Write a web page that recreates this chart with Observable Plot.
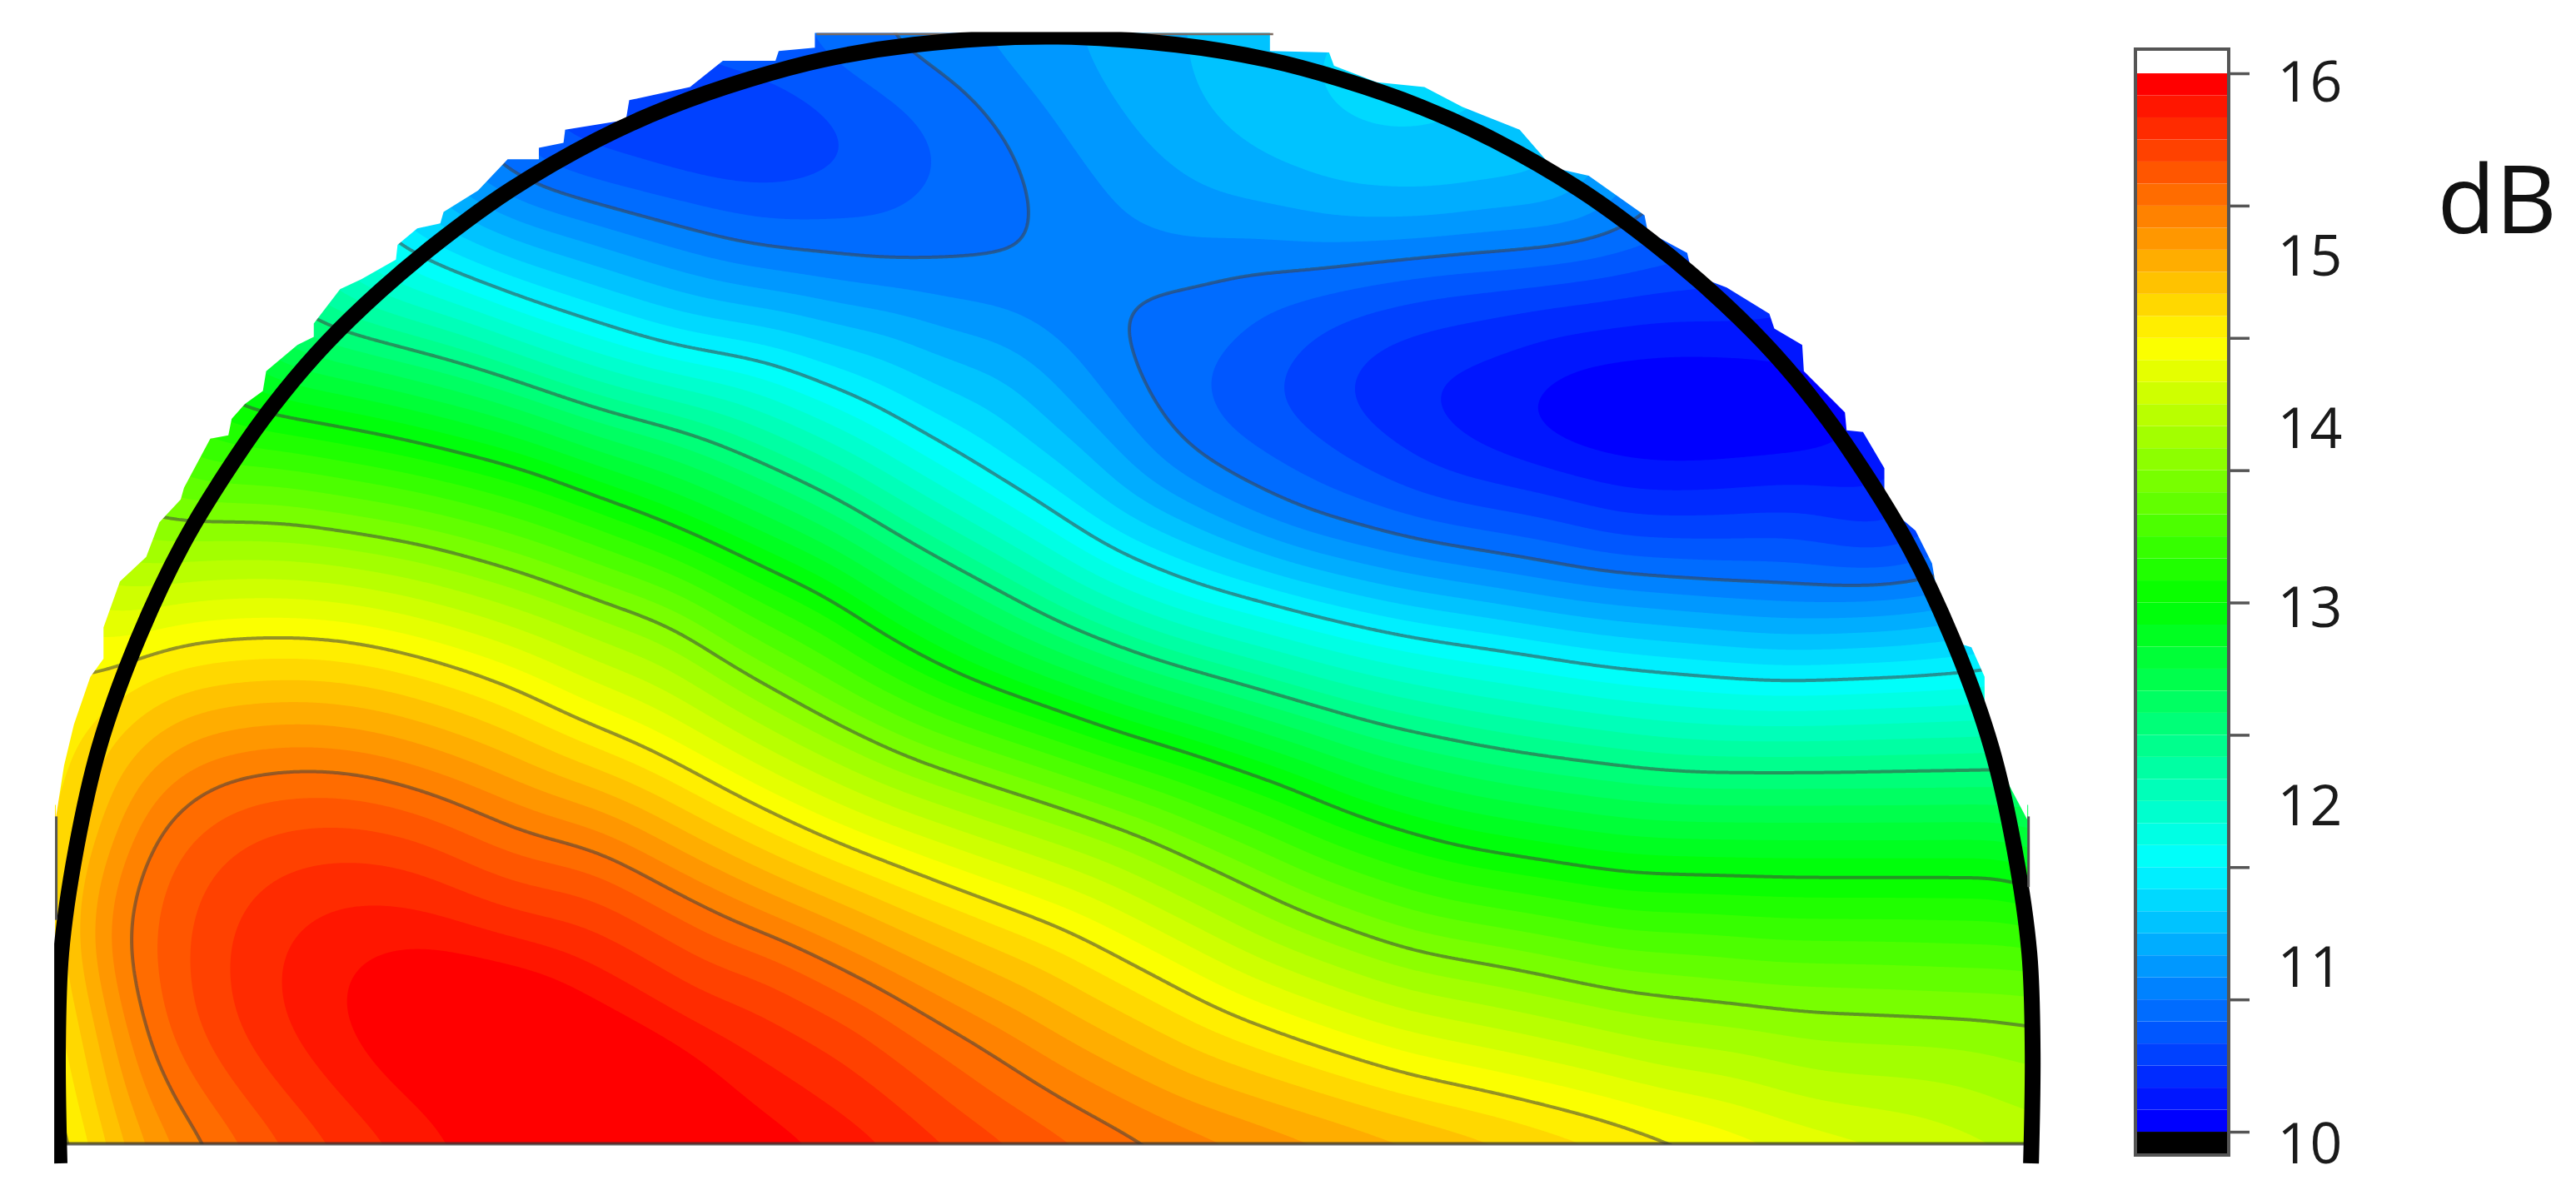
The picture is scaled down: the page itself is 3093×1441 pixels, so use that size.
<!DOCTYPE html>
<html><head><meta charset="utf-8">
<script src="https://cdn.jsdelivr.net/npm/d3@7"></script>
<script src="https://cdn.jsdelivr.net/npm/@observablehq/plot@0.6"></script>
<style>html,body{margin:0;background:#fff;overflow:hidden}#c{position:relative;width:3093px;height:1441px}#c svg{position:absolute;top:0;background:#fff0}</style>
</head><body><div id="c"></div>
<script>
// dB levels, as [x, y] in picture units
const t10125=[[915,247],[954,224],[1019,215],[1084,218],[1100,220],[954,274],[1019,285],[1110,277],[1140,274]];
const t1025=[[852,244],[890,218],[971,198],[1051,195],[1085,198],[906,280],[987,299],[1129,303],[1155,302]];
const t10375=[[806,242],[841,202],[922,184],[1019,173],[1060,176],[874,290],[987,316],[1145,329],[1170,327]];
const t105=[[765,240],[809,192],[890,173],[1003,160],[841,293],[987,329],[1148,338],[1180,337],[480,54],[527,86],[518,103],[471,116],[370,97]];
const t10625=[[724,240],[777,181],[874,163],[987,153],[809,300],[987,340],[1148,348],[1185,347],[518,42],[578,101],[535,140],[442,129],[355,110]];
const t1075=[[295,100],[323,115],[388,133],[453,152],[507,159],[573,165],[614,165],[636,155],[642,135],[630,105],[613,76],[590,51],[552,33],[530,24],
 [670,203],[672,180],[692,168],[733,166],[760,165],[825,158],[890,154],[987,145],[1003,135],[688,235],[722,280],[756,300],[793,316],[857,331],[954,347],[1084,358],[1161,355],[1190,352]];
const t10875=[[597,28],[631,64],[658,101],[690,135],[720,153],[800,150],[900,145],[975,136]];
const t110=[[655,29],[675,59],[704,95],[748,123],[811,138],[880,138],[954,129]];
const t11125=[[719,35],[733,71],[777,101],[811,115],[880,118],[955,112]];
const t1125=[[786,40],[786,61],[809,78],[851,90],[896,94],[925,90]];
const t115=[[240,150],[262,162],[323,186],[388,207],[406,213],[470,222],[507,238],[535,251],[583,280],[632,309],[680,339],[729,358],[760,365],[794,374],[857,388],[912,395],[987,407],[1084,415],[1187,411],[1208,408]];
const t1225=[[191,198],[217,204],[291,223],[356,246],[406,258],[454,277],[503,300],[551,329],[600,355],[648,381],[697,400],[760,418],[825,437],[922,457],[1019,469],[1116,469],[1207,468],[1234,468]];
const t13=[[147,249],[171,252],[242,265],[323,285],[388,310],[453,339],[503,361],[545,390],[583,410],[632,427],[680,444],[729,458],[777,474],[825,495],[890,515],[987,530],[1084,532],[1219,532],[1240,532]];
const t1375=[[97,318],[126,317],[178,318],[259,331],[323,349],[372,367],[406,377],[454,410],[503,437],[551,460],[600,476],[648,491],[697,508],[745,531],[794,555],[858,578],[912,587],[987,603],[1084,613],[1229,619],[1250,620]];
const t145=[[61,407],[84,398],[113,390],[162,386],[210,388],[259,399],[307,415],[356,440],[406,461],[454,487],[503,510],[551,528],[600,546],[648,563],[697,589],[745,615],[802,636],[858,654],[922,667],[987,682]];
const t1525=[[103,668],[87,639],[76,606],[73,571],[80,528],[93,503],[116,481],[145,470],[186,466],[228,471],[269,484],[324,507],[406,539],[454,562],[503,583],[551,609],[600,636],[648,667]];
const t15375=[[91,571],[103,521],[145,488],[207,483],[253,493],[358,526],[463,575],[528,610]];
const t155=[[112,571],[128,528],[166,503],[207,499],[253,509],[358,542],[463,589],[528,624],[116,623]];
const t15625=[[134,575],[155,534],[197,521],[253,526],[376,570],[463,614],[528,654],[145,633]];
const t1575=[[163,592],[176,563],[207,545],[253,549],[341,577],[428,624],[528,687],[172,629],[207,670]];
const t15875=[[207,604],[219,583],[253,577],[306,586],[358,610],[411,640],[455,671],[217,633],[248,668]];
const levelNames=[10.125,10.25,10.375,10.5,10.625,10.75,10.875,11,11.125,11.25,11.5,12.25,13,13.75,14.5,15.25,15.375,15.5,15.625,15.75,15.875];
const levelTraces=[t10125,t1025,t10375,t105,t10625,t1075,t10875,t110,t11125,t1125,t115,t1225,t13,t1375,t145,t1525,t15375,t155,t15625,t1575,t15875];
// extremes, saddle and rim readings, as [x, y, dB]
const spots=[[960,250,9.96],[1030,250,9.93],[1100,250,9.96],[430,85,10.32],[480,85,10.36],[345,80,10.42],[655,172,10.82],[840,62,11.32],
 [260,612,16.12],[320,628,16.18],[400,665,16.18],[34,600,14.6],[48,571,15.0],[60,571,15.12],[36,500,14.55],[50,440,14.55],
 [1245,660,13.9],[1238,575,13.4],[1225,500,12.65],[1205,440,11.9],[1190,380,11.2],[470,37,10.55],[1010,140,10.68],[1145,300,10.26]];
// readings along the straight lower edge, as [x, dB], and the same levels carried on below it
const baseX=[22,34,62,83,124,145,170,199,234,275,330,400,488,535,574,612,651,706,760,815,869,923,978,1032,1130,1252];
const baseDb=[14.3,14.35,14.75,15,15.25,15.375,15.5,15.625,15.75,15.875,16.15,16.15,15.875,15.75,15.625,15.5,15.375,15.25,15.125,15,14.875,14.75,14.625,14.5,14.27,14.05];
const belowX=[30,42,72,95,140,160,187,216,252,295,350,430,520,570,610,650,690,740,800,860,915,970,1025,1085,1190,1300];
// outline of the measured area, picture units
const rimEdge=[[0,490],[34,490],[34,498],[39,466],[45,441],[55,412],[63,401],[63,382],[73,354],[89,339],[97,318],[110,304],[112,297],[128,267],[139,265],[141,255],[149,246],[160,238],[162,226],[181,210],[191,205],[191,197],[207,176],[220,170],[241,158],[242,149],[254,139],[268,136],[270,129],[291,116],[309,97],[328,97],[328,90],[343,87],[344,79],[381,73],[383,61],[420,53],[440,37],[472,37],[474,31],[496,29],[496,20],[773,20],[773,31],[809,32],[812,40],[838,50],[867,53],[890,65],[925,79],[945,102],[967,107],[1001,131],[1003,141],[1027,154],[1030,167],[1051,175],[1077,191],[1080,200],[1097,210],[1098,226],[1123,251],[1124,262],[1134,263],[1147,285],[1147,307],[1166,323],[1176,343],[1181,372],[1190,391],[1200,394],[1208,412],[1208,430],[1223,478],[1234,499],[1234,490],[1277,490]];
const ringPath=[[36,708],[35,640],[37,580],[46,517],[60,455],[82,393],[111,331],[149,270],[172,239],[199,208],[231,177],[268,146],[311,115],[363,85],[407,65],[456,48],[501,36],[556,27],[636,22],[716,27],[771,36],[816,48],[865,65],[909,85],[961,115],[1004,146],[1041,177],[1073,208],[1100,239],[1123,270],[1161,331],[1190,393],[1212,455],[1226,517],[1235,580],[1237,640],[1236,708]];
// colour bar
const bandStarts=d3.range(48).map(i=>10+i*0.125);
const fieldThresholds=[9,...bandStarts.slice(1)];
const contourLevels=[10.75,11.5,12.25,13,13.75,14.5,15.25];
const barTicks=[10,10.75,11.5,12.25,13,13.75,14.5,15.25,16];
const barLabels=[16,15,14,13,12,11,10];
const barLabelShift=[0.057,0.042,0.019,0.033,0.156,0.071,0.076];
const colorDomain=[10,11.47,12.94,14.4,15.875];
const colorRange=["#0000ff","#00ffff","#00ff00","#ffff00","#ff0000"];

const samples=[
 ...levelTraces.flatMap((tr,i)=>tr.map(([x,y])=>({x,y,v:levelNames[i]}))),
 ...spots.map(([x,y,v])=>({x,y,v})),
 ...baseX.map((x,i)=>({x,y:696,v:baseDb[i]})),
 ...belowX.map((x,i)=>({x,y:716,v:baseDb[i]}))
];
const color={type:"linear",domain:colorDomain,range:colorRange,interpolate:"rgb",clamp:true};
const ext={x1:22,x2:1252,y1:712,y2:12};
const field={x:"x",y:"y",value:"v",interpolate:"barycentric",blur:18,pixelSize:2,...ext};
const white="#ffffff";

const main=Plot.plot({
 width:2519,height:1441,margin:0,
 x:{domain:[0,1277],axis:null},
 y:{domain:[730.5,0],axis:null},
 color,
 marks:[
  Plot.contour(samples,{...field,fill:"value",thresholds:fieldThresholds,stroke:"none"}),
  Plot.contour(samples,{...field,fill:"none",stroke:"#3f3f3f",strokeOpacity:0.55,strokeWidth:4,thresholds:contourLevels}),
  Plot.areaY(rimEdge,{x:d=>d[0],y1:d=>d[1],y2:()=>0,fill:white,curve:"linear"}),
  Plot.rect([0],{x1:()=>0,x2:()=>33.5,y1:()=>485,y2:()=>730.5,fill:white}),
  Plot.rect([0],{x1:()=>1234.5,x2:()=>1277,y1:()=>485,y2:()=>730.5,fill:white}),
  Plot.rect([0],{x1:()=>0,x2:()=>1277,y1:()=>696.5,y2:()=>730.5,fill:white}),
  Plot.ruleY([696],{x1:36,x2:1236,stroke:"#333",strokeOpacity:0.75,strokeWidth:4}),
  Plot.ruleY([20.5],{x1:497,x2:775,stroke:"#7a6a60",strokeWidth:2.5}),
  Plot.line(ringPath,{x:d=>d[0],y:d=>d[1],stroke:"#000",strokeWidth:19,curve:"catmull-rom",strokeLinecap:"butt"}),
  Plot.rect([0],{x1:()=>0,x2:()=>1277,y1:()=>0,y2:()=>19.5,fill:white}),
  Plot.rect([0],{x1:()=>0,x2:()=>33,y1:()=>485,y2:()=>730.5,fill:white}),
  Plot.ruleX([34],{y1:497,y2:560,stroke:"#555",strokeWidth:3}),
  Plot.ruleX([1234.5],{y1:497,y2:540,stroke:"#555",strokeWidth:3})
 ]
});
main.style.left="0";

const bar=Plot.plot({
 width:574,height:1441,
 marginLeft:44,marginRight:418,marginTop:59,marginBottom:54,
 x:{domain:[0,1],axis:null},
 y:{domain:[9.868,16.137],axis:null},
 color,
 marks:[
  Plot.rect(bandStarts,{x1:()=>0,x2:()=>1,y1:d=>d,y2:d=>d+0.125,fill:d=>d}),
  Plot.rect([0],{x1:()=>0,x2:()=>1,y1:()=>16,y2:()=>16.137,fill:white}),
  Plot.rect([0],{x1:()=>0,x2:()=>1,y1:()=>9.868,y2:()=>10,fill:"#000"}),
  Plot.rect([0],{x1:()=>0,x2:()=>1,y1:()=>9.868,y2:()=>16.137,fill:"none",stroke:"#555",strokeWidth:4}),
  Plot.axisY({anchor:"right",ticks:barTicks,tickSize:24,tickFormat:()=>"",stroke:"#555",strokeWidth:3.5}),
  Plot.text(barLabels,{x:()=>1,y:(d,i)=>d-barLabelShift[i],text:d=>String(d),dx:58,textAnchor:"start",fontSize:68,fontFamily:"Open Sans",fill:"#1a1a1a",lineAnchor:"middle"}),
  Plot.text(["dB"],{x:()=>1,y:()=>15.27,dx:250,textAnchor:"start",fontSize:114,fontFamily:"Open Sans",fill:"#111"})
 ]
});
bar.style.left="2520px";
document.getElementById("c").append(main,bar);
</script></body></html>
